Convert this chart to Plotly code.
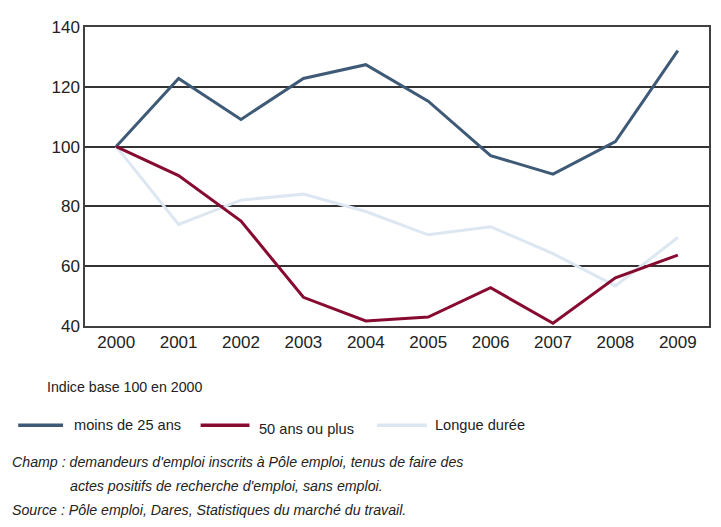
import plotly.graph_objects as go

years = ["2000", "2001", "2002", "2003", "2004", "2005", "2006", "2007", "2008", "2009"]
moins_25 = [100, 122.8, 109.1, 122.8, 127.4, 115.2, 97.0, 90.8, 101.7, 132.1]
plus_50 = [100, 90.3, 75.1, 49.6, 41.7, 43.0, 52.8, 40.9, 56.1, 63.7]
longue = [100, 74.0, 82.1, 84.1, 78.3, 70.5, 73.2, 64.2, 53.4, 69.6]
y_ticks = [40, 60, 80, 100, 120, 140]

names = ["moins de 25 ans", "50 ans ou plus", "Longue durée"]
colors = ["#3e5a76", "#870a30", "#dde7f2"]
series = [moins_25, plus_50, longue]

OFF = 8  # page body margin
W, H = 721 - OFF, 527 - OFF
L, R, T, B = 85 - OFF, 10, 19 - OFF, 201
pw, ph = W - L - R, H - T - B

def px(x):
    return (x - OFF - L) / pw

def py(y):
    return (H - B - (y - OFF)) / ph

fig = go.Figure()
for idx in [2, 0, 1]:
    fig.add_trace(go.Scatter(x=years, y=series[idx], mode="lines", name=names[idx],
                             line=dict(color=colors[idx], width=3), showlegend=False))

fig.update_layout(
    width=W, height=H,
    margin=dict(l=L, r=R, t=T, b=B),
    paper_bgcolor="white", plot_bgcolor="white",
    font=dict(family="Liberation Sans, Arial, sans-serif", color="#222222"),
)
fig.update_xaxes(type="category", range=[-0.5, 9.5], showgrid=False,
                 showline=True, linecolor="#404040", linewidth=1.5, mirror=True,
                 ticks="", tickfont=dict(size=17, color="#222222"))
fig.update_yaxes(range=[40, 140], tickvals=y_ticks, showgrid=True, gridcolor="#333333", gridwidth=1.5,
                 showline=True, linecolor="#404040", linewidth=1.5, mirror=True,
                 ticks="", zeroline=False, tickfont=dict(size=17, color="#222222"))

annots = []
shapes = []
annots.append(dict(x=px(45), y=py(389), xref="paper", yref="paper", text="Indice base 100 en 2000",
                   showarrow=False, xanchor="left", yanchor="middle", font=dict(size=14.2, color="#222222")))
leg = [(18, 63, 72, 428, 428), (201, 250, 258, 428, 432), (378, 428, 434, 428, 428)]
for i, (x0, x1, xt, yl, yt) in enumerate(leg):
    shapes.append(dict(type="line", xref="paper", yref="paper", x0=px(x0), x1=px(x1), y0=py(yl), y1=py(yl),
                       line=dict(color=colors[i], width=3.5)))
    annots.append(dict(x=px(xt), y=py(yt), xref="paper", yref="paper", text=names[i],
                       showarrow=False, xanchor="left", yanchor="middle", font=dict(size=14.6, color="#222222")))
notes = [(10, 466, "Champ : demandeurs d'emploi inscrits à Pôle emploi, tenus de faire des"),
         (68, 490, "actes positifs de recherche d'emploi, sans emploi."),
         (10, 515, "Source : Pôle emploi, Dares, Statistiques du marché du travail.")]
for x, y, t in notes:
    annots.append(dict(x=px(x), y=py(y), xref="paper", yref="paper", text="<i>" + t + "</i>",
                       showarrow=False, xanchor="left", yanchor="middle", font=dict(size=14.2, color="#222222")))
fig.update_layout(annotations=annots, shapes=shapes)
fig.write_html("out.html")
